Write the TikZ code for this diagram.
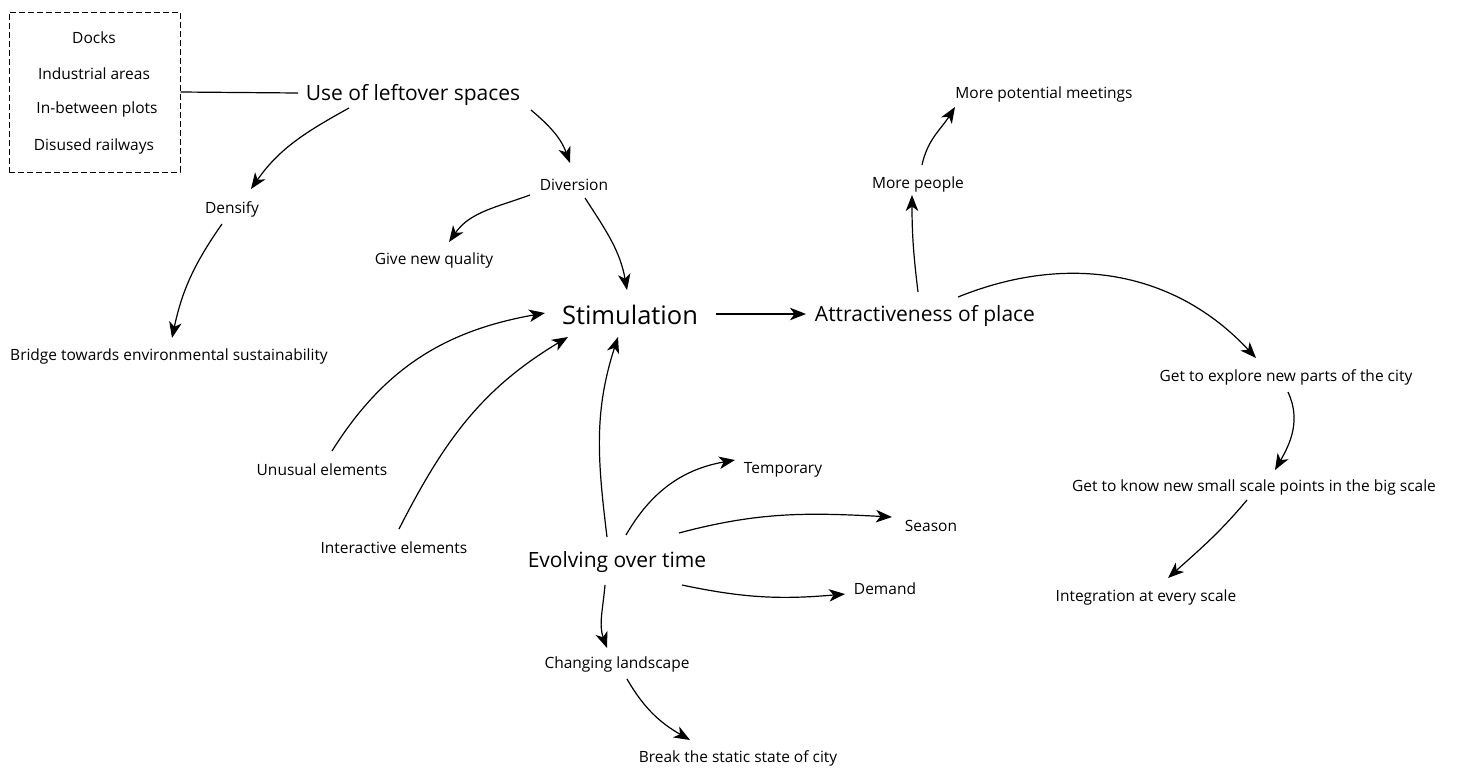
\documentclass[tikz,border=0pt]{standalone}
\usepackage{fontspec}
\setmainfont{Open Sans}
\usetikzlibrary{arrows.meta}
\begin{document}
\begin{tikzpicture}[x=1pt,y=1pt,
  lbl/.style={inner sep=0pt,yshift=-1.5pt,font=\fontsize{15.5}{18}\selectfont},
  mid/.style={inner sep=0pt,yshift=-1.5pt,font=\fontsize{21}{25}\selectfont},
  big/.style={inner sep=0pt,yshift=-1pt,font=\fontsize{25.5}{30}\selectfont},
  link/.style={line width=1.2pt,-{Stealth[length=16pt,width=12.5pt,inset=4.5pt]}},
  plain/.style={line width=1.2pt}]
\useasboundingbox (0,0) rectangle (1470,-772);

% grouped examples of leftover spaces
\node[draw,dashed,dash pattern=on 6pt off 3pt,line width=1pt,minimum width=171pt,minimum height=160pt,inner sep=0pt] (box) at (94.5,-92) {};
\node[lbl] (docks) at (94,-36) {Docks};
\node[lbl] (ind) at (94,-72) {Industrial areas};
\node[lbl] (plots) at (97,-108) {In-between plots};
\node[lbl] (rail) at (94,-145) {Disused railways};

% main labels
\node[mid] (use) at (413,-93) {Use of leftover spaces};
\node[lbl] (dens) at (232,-208) {Densify};
\node[lbl] (div) at (574,-183) {Diversion};
\node[lbl] (gnq) at (434,-259) {Give new quality};
\node[lbl] (bridge) at (169,-355) {Bridge towards environmental sustainability};
\node[big] (stim) at (630,-314) {Stimulation};
\node[mid] (attr) at (925,-314) {Attractiveness of place};
\node[lbl] (people) at (918,-183) {More people};
\node[lbl] (meet) at (1044,-93) {More potential meetings};
\node[lbl] (explore) at (1286,-376) {Get to explore new parts of the city};
\node[lbl] (know) at (1254,-486) {Get to know new small scale points in the big scale};
\node[lbl] (integ) at (1146,-596) {Integration at every scale};
\node[lbl] (unus) at (322,-468) {Unusual elements};
\node[lbl] (inter) at (394,-546) {Interactive elements};
\node[mid] (evol) at (617,-561) {Evolving over time};
\node[lbl] (temp) at (783,-468) {Temporary};
\node[lbl] (season) at (931,-524) {Season};
\node[lbl] (demand) at (885,-587) {Demand};
\node[lbl] (chg) at (617,-663) {Changing landscape};
\node[lbl] (brk) at (738,-757) {Break the static state of city};

% connectors
\draw[plain] (box.east) -- ([shift={(-115,1.5)}]use.center);
\draw[link] ([shift={(-64,-13.5)}]use.center) to[out=209,in=55] ([shift={(19,20.5)}]dens.center);
\draw[link] ([shift={(118,-15.5)}]use.center) to[out=-40,in=110] ([shift={(-4,21.5)}]div.center);
\draw[link] ([shift={(-10,-14.5)}]dens.center) to[out=235,in=78] ([shift={(3,18.5)}]bridge.center);
\draw[link] ([shift={(-44,-10.5)}]div.center) to[out=200,in=55] ([shift={(15,18.5)}]gnq.center);
\draw[link] ([shift={(11,-13.5)}]div.center) to[out=-57,in=100] ([shift={(-3,25)}]stim.center);
\draw[link] ([shift={(86,1)}]stim.center) -- ([shift={(-119,1.5)}]attr.center);
\draw[link] ([shift={(-7,23.5)}]attr.center) to[out=97,in=270] ([shift={(-6,-10.5)}]people.center);
\draw[link] ([shift={(4,19.5)}]people.center) to[out=78,in=238] ([shift={(-89,-12.5)}]meet.center);
\draw[link] ([shift={(33,18.5)}]attr.center) to[out=22,in=133] ([shift={(-30,19.5)}]explore.center);
\draw[link] ([shift={(2,-14.5)}]explore.center) to[out=-65,in=60] ([shift={(21,17.5)}]know.center);
\draw[link] ([shift={(-7,-12.5)}]know.center) to[out=230,in=42] ([shift={(22,19.5)}]integ.center);
\draw[link] ([shift={(10,18.5)}]unus.center) to[out=58,in=190] ([shift={(-85,2)}]stim.center);
\draw[link] ([shift={(5,18.5)}]inter.center) to[out=63,in=211] ([shift={(-62,-22)}]stim.center);
\draw[link] ([shift={(-10,25.5)}]evol.center) to[out=97,in=252] ([shift={(-12,-22)}]stim.center);
\draw[link] ([shift={(9,27.5)}]evol.center) to[out=60,in=190] ([shift={(-48,9.5)}]temp.center);
\draw[link] ([shift={(62,29.5)}]evol.center) to[out=15,in=177] ([shift={(-39,8.5)}]season.center);
\draw[link] ([shift={(65,-22.5)}]evol.center) to[out=-12,in=185] ([shift={(-40,-5.5)}]demand.center);
\draw[link] ([shift={(-12,-22.5)}]evol.center) to[out=265,in=110] ([shift={(-10,16.5)}]chg.center);
\draw[link] ([shift={(10,-14.5)}]chg.center) to[out=-60,in=150] ([shift={(-48,18.5)}]brk.center);
\end{tikzpicture}
\end{document}
